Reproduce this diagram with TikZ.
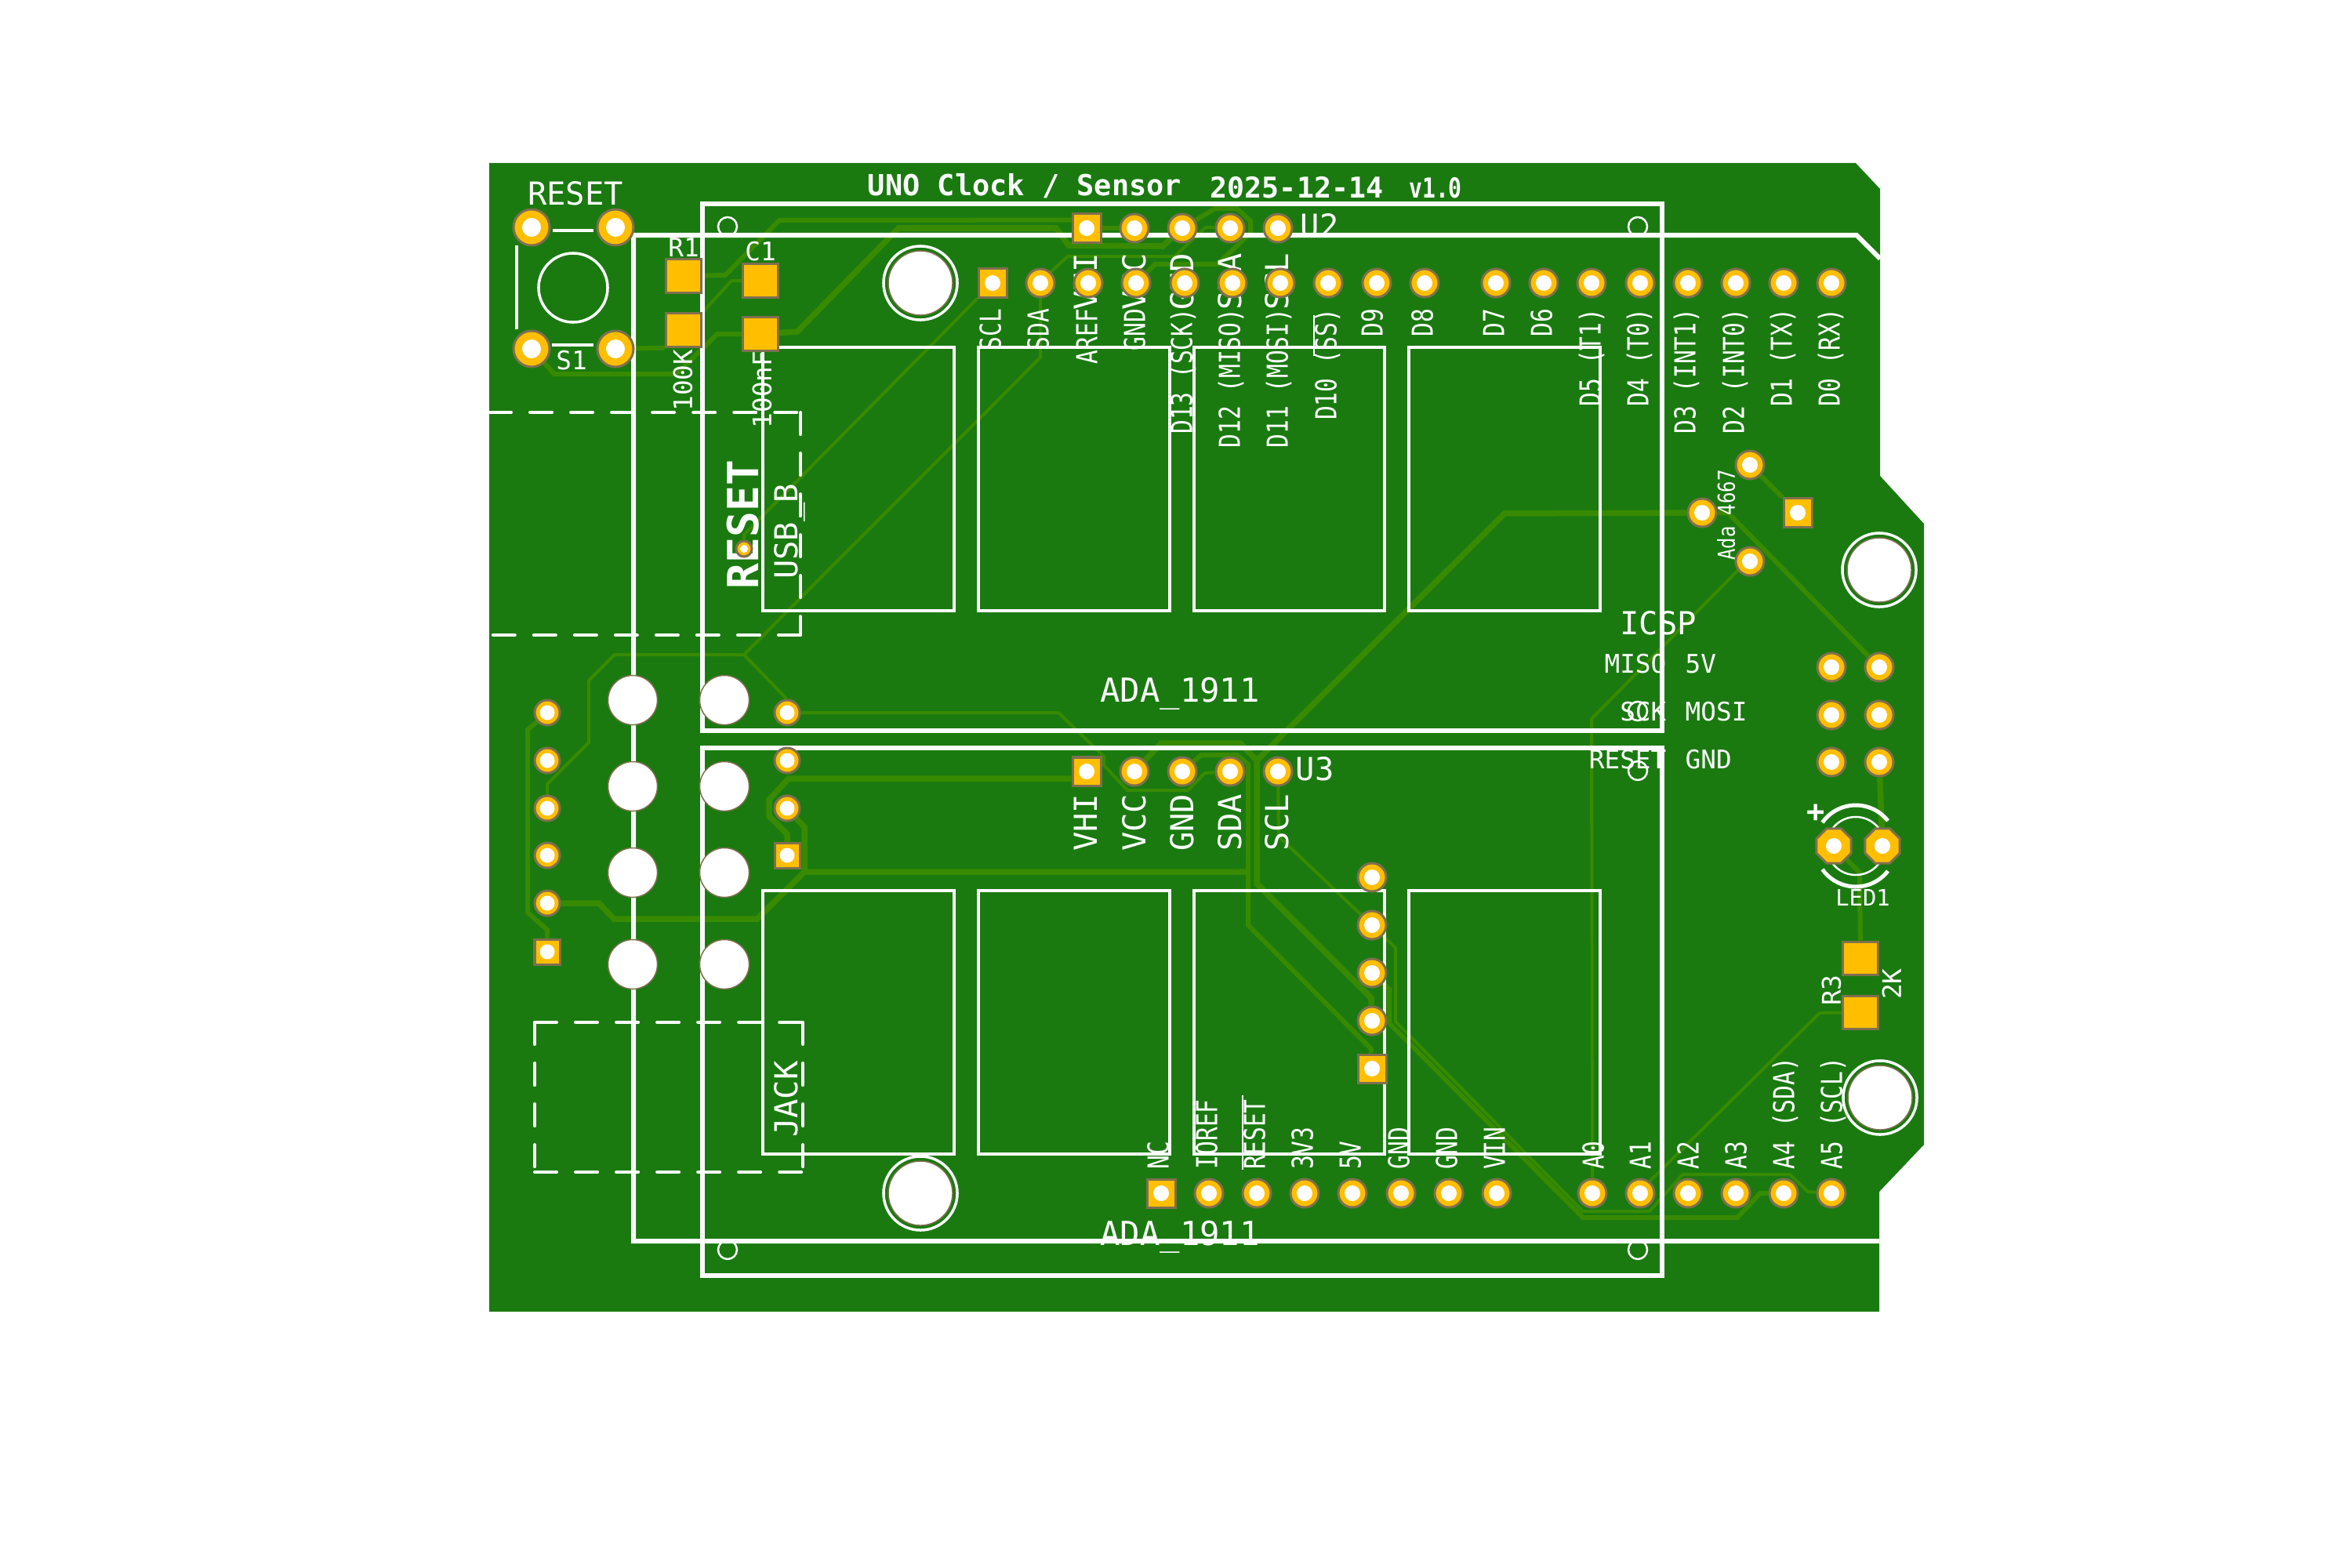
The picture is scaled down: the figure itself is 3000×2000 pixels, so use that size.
\documentclass[tikz,border=0pt]{standalone}
\usepackage{fontspec}
\usetikzlibrary{shapes.geometric}
\newfontfamily\silkwide{DejaVu Sans Mono}
\newfontfamily\silknarrow[FakeStretch=0.8]{DejaVu Sans Mono}
\definecolor{boardgreen}{RGB}{26,122,16}
\definecolor{coppergreen}{RGB}{56,138,0}
\definecolor{padorange}{RGB}{255,191,0}
\definecolor{padedge}{RGB}{127,111,79}
\pgfdeclarelayer{board}
\pgfdeclarelayer{copper}
\pgfdeclarelayer{silk}
\pgfsetlayers{board,copper,silk,main}
\tikzset{
  padbase/.style={fill=padorange,draw=padedge,line width=0.03cm,inner sep=0pt,
    path picture={\fill[white] (path picture bounding box.center) circle (#1);}},
  pad/.style={padbase=0.1cm,circle,minimum size=0.36cm},
  padsq/.style={padbase=0.1cm,rectangle,minimum size=0.36cm},
  padsmall/.style={padbase=0.095cm,circle,minimum size=0.32cm},
  padsmallsq/.style={padbase=0.095cm,rectangle,minimum size=0.32cm},
  padsw/.style={padbase=0.12cm,circle,minimum size=0.46cm},
  padoct/.style={padbase=0.1cm,regular polygon,regular polygon sides=8,minimum size=0.48cm},
  padvia/.style={padbase=0.05cm,circle,minimum size=0.2cm},
  smd/.style={fill=padorange,draw=padedge,line width=0.03cm,inner sep=0pt,rectangle,
    minimum width=0.45cm,minimum height=0.42cm},
  drill/.style={circle,fill=white,draw=padedge,line width=0.015cm,inner sep=0pt,minimum size=0.63cm},
  mount/.style={circle,fill=white,draw=padedge,line width=0.015cm,inner sep=0pt,minimum size=0.82cm},
  trthin/.style={coppergreen,line width=0.04cm},
  trmid/.style={coppergreen,line width=0.06cm},
  trwide/.style={coppergreen,line width=0.075cm},
  silkline/.style={white,line width=0.06cm},
  silkpanel/.style={white,line width=0.035cm},
  silkthin/.style={white,line width=0.025cm},
  silkled/.style={white,line width=0.05cm},
  silkdash/.style={white,line width=0.04cm,line cap=round,dash pattern=on 0.28cm off 0.24cm},
  silktext/.style={text=white,inner sep=0pt,text depth=0pt},
  pinlabel/.style={silktext,font=\silknarrow\fontsize{10.5}{12}\selectfont,text height=7.7pt,rotate=90},
  pinup/.style={pinlabel,anchor=west},
  pindown/.style={pinlabel,anchor=east},
  modlabel/.style={silktext,font=\silkwide\fontsize{11.5}{13}\selectfont,text height=8.4pt,rotate=90,anchor=east},
  bigtext/.style={silktext,font=\silkwide\fontsize{11.5}{13}\selectfont,text height=8.4pt},
  smalltext/.style={silktext,font=\silkwide\fontsize{9.3}{11}\selectfont,text height=6.8pt},
}
\begin{document}
\begin{tikzpicture}[x=0.01cm,y=-0.01cm]
  \useasboundingbox (0,0) rectangle (3000,2000);
  \draw
    (1266,361) node[padsq] (pscl){}
    (1327,361) node[pad] (psda){}
    (1388,361) node[pad] (paref){}
    (1449,361) node[pad] (pgnd){}
    (1511,361) node[pad] (pd13){}
    (1572,361) node[pad] (pd12){}
    (1633,361) node[pad] (pd11){}
    (1694,361) node[pad] (pd10){}
    (1756,361) node[pad] (pd9){}
    (1817,361) node[pad] (pd8){}
    (1908,361) node[pad] (pd7){}
    (1969,361) node[pad] (pd6){}
    (2030,361) node[pad] (pd5){}
    (2092,361) node[pad] (pd4){}
    (2153,361) node[pad] (pd3){}
    (2214,361) node[pad] (pd2){}
    (2275,361) node[pad] (pd1){}
    (2336,361) node[pad] (pd0){};
  \draw
    (1481,1522) node[padsq] (pnc){}
    (1542,1522) node[pad] (pioref){}
    (1603,1522) node[pad] (preset){}
    (1664,1522) node[pad] (p3v3){}
    (1725,1522) node[pad] (p5v){}
    (1787,1522) node[pad] (pgnda){}
    (1848,1522) node[pad] (pgndb){}
    (1909,1522) node[pad] (pvin){}
    (2031,1522) node[pad] (pa0){}
    (2092,1522) node[pad] (pa1){}
    (2153,1522) node[pad] (pa2){}
    (2214,1522) node[pad] (pa3){}
    (2275,1522) node[pad] (pa4){}
    (2336,1522) node[pad] (pa5){};
  \draw
    (1386,291) node[padsq] (u2vhi){}
    (1447,291) node[pad] (u2vcc){}
    (1508,291) node[pad] (u2gnd){}
    (1569,291) node[pad] (u2sda){}
    (1630,291) node[pad] (u2scl){}
    (1386,984) node[padsq] (u3vhi){}
    (1447,984) node[pad] (u3vcc){}
    (1508,984) node[pad] (u3gnd){}
    (1569,984) node[pad] (u3sda){}
    (1630,984) node[pad] (u3scl){};
  \draw
    (1750,1119) node[pad] (hd1){}
    (1750,1180) node[pad] (hd2){}
    (1750,1241) node[pad] (hd3){}
    (1750,1302) node[pad] (hd4){}
    (1750,1363) node[padsq] (hd5){};
  \draw
    (698,909) node[padsmall] (ja1){}
    (698,970) node[padsmall] (ja2){}
    (698,1031) node[padsmall] (ja3){}
    (698,1091) node[padsmall] (ja4){}
    (698,1152) node[padsmall] (ja5){}
    (698,1214) node[padsmallsq] (ja6){}
    (1004,909) node[padsmall] (jb1){}
    (1004,970) node[padsmall] (jb2){}
    (1004,1031) node[padsmall] (jb3){}
    (1004,1091) node[padsmallsq] (jb4){};
  \draw
    (807,893) node[drill] (hl1){}
    (924,893) node[drill] (hl2){}
    (807,1003) node[drill] (hl3){}
    (924,1003) node[drill] (hl4){}
    (807,1113) node[drill] (hl5){}
    (924,1113) node[drill] (hl6){}
    (807,1230) node[drill] (hl7){}
    (924,1230) node[drill] (hl8){};
  \draw
    (1174,361) node[mount] (mt1){}
    (1174,1522) node[mount] (mt2){}
    (2397,727) node[mount] (mt3){}
    (2398,1400) node[mount] (mt4){};
  \draw
    (678,290) node[padsw] (s1a){}
    (785,290) node[padsw] (s1b){}
    (678,445) node[padsw] (s1c){}
    (785,445) node[padsw] (s1d){}
    (872,352) node[smd] (r1a){}
    (872,421) node[smd] (r1b){}
    (970,358) node[smd] (c1a){}
    (970,426) node[smd] (c1b){}
    (2373,1222) node[smd] (r3a){}
    (2373,1291) node[smd] (r3b){}
    (949,700) node[padvia] (vreset){};
  \draw
    (2232,593) node[pad] (ad1){}
    (2171,654) node[pad] (ad2){}
    (2232,716) node[pad] (ad3){}
    (2293,654) node[padsq] (ad4){}
    (2336,851) node[pad] (ic1){}
    (2397,851) node[pad] (ic2){}
    (2336,912) node[pad] (ic3){}
    (2397,912) node[pad] (ic4){}
    (2336,972) node[pad] (ic5){}
    (2397,972) node[pad] (ic6){}
    (2339,1079) node[padoct] (lda){}
    (2401,1079) node[padoct] (ldb){};
  \begin{pgfonlayer}{board}
    \fill[boardgreen] (624,208) -- (2367,208) -- (2398,241) -- (2398,607) -- (2454,668)
      -- (2454,1460) -- (2397,1520) -- (2397,1673) -- (624,1673) -- cycle;
  \end{pgfonlayer}
  \begin{pgfonlayer}{copper}
    \coordinate (tsda) at (949,835);
    \coordinate (tgnd) at (1026,1112);
    \coordinate (tvcc) at (1603,970);
    \draw[trmid] (r1a) -- (925,351) -- (994,281) -- (u2vhi.152);
    \draw[trthin] (r1b.north east) -- (933,358) -- (c1a);
    \draw[trmid] (c1b) -- (915,426) -- (863,477) -- (707,477) -- (s1c);
    \draw[trmid] (s1d) -- (r1b.south west);
    \draw[trwide] (c1b) -- (1017,423) -- (1146,291) -- (1347,291) -- (1363,313) -- (1483,314) -- (1495,303) -- (u2gnd);
    \draw[trmid] (u2gnd) -- (1550,266) -- (1578,266) -- (1595,282) -- (1595,297) -- (1553,337) -- (1473,337) -- (1463,347) -- (pgnd);
    \draw[trthin] (u2sda) -- (1538,290) -- (1498,327) -- (1362,327) -- (1340,347) -- (psda);
    \draw[trmid] (u2vhi) -- (u2vcc);
    \draw[trthin] (pscl) -- (949,682) -- (vreset);
    \draw[trthin] (psda) -- (1327,456) -- (tsda) -- (784,835) -- (751,868) -- (751,947) -- (698,1000) -- (ja3);
    \draw[trthin] (tsda) -- (1002,890) -- (jb1);
    \draw[trmid] (ja1) -- (673,931) -- (673,1164) -- (698,1186) -- (ja6);
    \draw[trwide] (ja5) -- (764,1152) -- (783,1172) -- (966,1172) -- (tgnd) -- (1592,1112);
    \draw[trwide] (tgnd) -- (1026,1055) -- (jb3);
    \draw[trwide] (jb4) -- (1004,1064) -- (981,1041) -- (981,1020) -- (1006,993) -- (u3vhi.205);
    \draw[trthin] (jb1) -- (1350,909) -- (1408,965) -- (1408,976) -- (1438,1008) -- (1515,1008) -- (1537,986) -- (u3sda);
    \draw[trwide] (u3vcc) -- (1481,948) -- (1582,948) -- (tvcc) -- (1603,1127) -- (1749,1273) -- (hd4);
    \draw[trwide] (tvcc) -- (1919,655) -- (ad2);
    \draw[trmid] (u3gnd) -- (1532,963) -- (1578,963) -- (1592,975) -- (1592,1180) -- (1749,1338) -- (hd5);
    \draw[trthin] (u3scl) -- (1631,1067) -- (hd2);
    \draw[trthin] (hd2) -- (1780,1209) -- (1780,1303) -- (2019,1545) -- (2104,1545) -- (2146,1498) -- (2283,1498) -- (2306,1520) -- (pa5);
    \draw[trmid] (hd3) -- (1772,1262) -- (1772,1305) -- (2019,1553) -- (2216,1553) -- (2245,1522) -- (pa4);
    \draw[trthin] (pa0) -- (2030,917) -- (2218,726) -- (ad3);
    \draw[trthin] (pa1) -- (2106,1505) -- (2321,1292) -- (r3b);
    \draw[trmid] (ad1) -- (ad4);
    \draw[trmid] (ad2) -- (2204,654) -- (ic2);
    \draw[trwide] (ic6) -- (ldb);
    \draw[trmid] (lda) -- (2372,1113) -- (r3a);
  \end{pgfonlayer}
  \begin{pgfonlayer}{silk}
    \draw[silkline] (2398,330) -- (2368,300) -- (808,300) -- (808,1583) -- (2397,1583);
    \draw[silkline] (896,260) rectangle (2120,932);
    \draw[silkline] (896,954) rectangle (2120,1627);
    \draw[silkpanel] (973,443) rectangle (1217,779);
    \draw[silkpanel] (1248,443) rectangle (1492,779);
    \draw[silkpanel] (1523,443) rectangle (1766,779);
    \draw[silkpanel] (1797,443) rectangle (2041,779);
    \draw[silkpanel] (973,1136) rectangle (1217,1472);
    \draw[silkpanel] (1248,1136) rectangle (1492,1472);
    \draw[silkpanel] (1523,1136) rectangle (1766,1472);
    \draw[silkpanel] (1797,1136) rectangle (2041,1472);
    \draw[silkthin] (928,289) circle (0.12cm);
    \draw[silkthin] (2089,289) circle (0.12cm);
    \draw[silkthin] (2089,907) circle (0.12cm);
    \draw[silkthin] (2089,983) circle (0.12cm);
    \draw[silkthin] (928,1594) circle (0.12cm);
    \draw[silkthin] (2089,1594) circle (0.12cm);
    \draw[silkpanel] (1174,361) circle (0.47cm);
    \draw[silkpanel] (1174,1522) circle (0.47cm);
    \draw[silkpanel] (2397,727) circle (0.47cm);
    \draw[silkpanel] (2398,1400) circle (0.47cm);
    \draw[silkdash] (624,526) -- (1021,526);
    \draw[silkdash] (1021,526) -- (1021,810);
    \draw[silkdash] (1021,810) -- (624,810);
    \draw[silkdash] (682,1304) -- (1024,1304);
    \draw[silkdash] (682,1304) -- (682,1495);
    \draw[silkdash] (1024,1304) -- (1024,1495);
    \draw[silkdash] (682,1495) -- (1024,1495);
    \draw[silkpanel] (705,294) -- (757,294);
    \draw[silkpanel] (704,440) -- (757,440);
    \draw[silkpanel] (659,313) -- (659,420);
    \draw[silkpanel] (731,367) circle (0.44cm);
    \draw[silkled] (2367,1079) ++(38:52) arc[start angle=38,end angle=145,radius=52];
    \draw[silkled] (2367,1079) ++(-38:52) arc[start angle=-38,end angle=-145,radius=52];
    \draw[silkthin] (2367,1079) circle (0.37cm);
    \draw[silkthin] (1585,1397) -- (1585,1492);
    \draw[silkthin] (1676,402) -- (1676,454);
    \draw
      (1307,236) node[silktext,font=\silkwide\bfseries\fontsize{10.5}{13}\selectfont,text height=7.7pt] (title){UNO Clock / Sensor}
      (1654,240) node[silktext,font=\silkwide\bfseries\fontsize{10.4}{12}\selectfont,text height=7.3pt] (date){2025-12-14}
      (1831,240) node[silktext,font=\silknarrow\bfseries\fontsize{10}{12}\selectfont,text height=7.3pt] (version){v1.0}
      (734,247) node[bigtext] (lblreset){RESET}
      (729,460) node[smalltext] (lbls1){S1}
      (872,316) node[smalltext] (lblr1){R1}
      (970,321) node[smalltext] (lblc1){C1}
      (871,485) node[smalltext,rotate=90] (lbl100k){100K}
      (972,497) node[smalltext,rotate=90] (lbl100nf){100nF}
      (948,669) node[silktext,font=\silkwide\bfseries\fontsize{15.5}{18}\selectfont,text height=11.3pt,rotate=90] (lblbold){RESET}
      (1003,678) node[bigtext,rotate=90] (lblusb){USB\_B}
      (1003,1402) node[bigtext,rotate=90] (lbljack){JACK}
      (1683,288) node[bigtext] (lblu2){U2}
      (1677,981) node[bigtext] (lblu3){U3}
      (1505,881) node[bigtext,font=\silkwide\fontsize{12}{14}\selectfont] (lblada1){ADA\_1911}
      (1505,1574) node[bigtext,font=\silkwide\fontsize{12}{14}\selectfont] (lblada2){ADA\_1911}
      (2202,657) node[silktext,font=\silknarrow\fontsize{8.5}{10}\selectfont,text height=6.2pt,rotate=90] (lblada){Ada 4667}
      (2115,795) node[bigtext] (lblicsp){ICSP}
      (2126,847) node[smalltext,anchor=east] (lblmiso){MISO}
      (2149,847) node[smalltext,anchor=west] (lbl5v){5V}
      (2126,908) node[smalltext,anchor=east] (lblsck){SCK}
      (2149,908) node[smalltext,anchor=west] (lblmosi){MOSI}
      (2126,969) node[smalltext,anchor=east] (lblrst){RESET}
      (2149,969) node[smalltext,anchor=west] (lblgnd){GND}
      (2316,1037) node[silktext,font=\silkwide\bfseries\fontsize{11}{13}\selectfont] (lblplus){+}
      (2376,1145) node[silktext,font=\silkwide\fontsize{8.2}{10}\selectfont,text height=6pt] (lblled){LED1}
      (2336,1263) node[smalltext,rotate=90] (lblr3){R3}
      (2413,1255) node[smalltext,rotate=90] (lbl2k){2K};
    \draw
      (1263,393) node[pindown] (tscl){SCL}
      (1324,393) node[pindown] (tsdap){SDA}
      (1386,393) node[pindown] (taref){AREF}
      (1447,393) node[pindown] (tgndp){GND}
      (1507,393) node[pindown] (td13){D13 (SCK)}
      (1568,393) node[pindown] (td12){D12 (MISO)}
      (1629,393) node[pindown] (td11){D11 (MOSI)}
      (1691,393) node[pindown] (td10){D10 (SS)}
      (1750,393) node[pindown] (td9){D9}
      (1814,393) node[pindown] (td8){D8}
      (1905,393) node[pindown] (td7){D7}
      (1966,393) node[pindown] (td6){D6}
      (2028,393) node[pindown] (td5){D5 (T1)}
      (2089,393) node[pindown] (td4){D4 (T0)}
      (2149,393) node[pindown] (td3){D3 (INT1)}
      (2211,393) node[pindown] (td2){D2 (INT0)}
      (2272,393) node[pindown] (td1){D1 (TX)}
      (2333,393) node[pindown] (td0){D0 (RX)};
    \draw
      (1477,1492) node[pinup] (tnc){NC}
      (1539,1492) node[pinup] (tioref){IOREF}
      (1600,1492) node[pinup] (treset){RESET}
      (1661,1492) node[pinup] (t3v3){3V3}
      (1722,1492) node[pinup] (t5v){5V}
      (1784,1492) node[pinup] (tgnda){GND}
      (1845,1492) node[pinup] (tgndb){GND}
      (1906,1492) node[pinup] (tvin){VIN}
      (2032,1492) node[pinup] (ta0){A0}
      (2092,1492) node[pinup] (ta1){A1}
      (2153,1492) node[pinup] (ta2){A2}
      (2214,1492) node[pinup] (ta3){A3}
      (2275,1492) node[pinup] (ta4){A4 (SDA)}
      (2336,1492) node[pinup] (ta5){A5 (SCL)};
    \draw
      (1385,322) node[modlabel] (tu2vhi){VHI}
      (1447,322) node[modlabel] (tu2vcc){VCC}
      (1508,322) node[modlabel] (tu2gnd){GND}
      (1569,322) node[modlabel] (tu2sda){SDA}
      (1629,322) node[modlabel] (tu2scl){SCL}
      (1385,1012) node[modlabel] (tu3vhi){VHI}
      (1447,1012) node[modlabel] (tu3vcc){VCC}
      (1508,1012) node[modlabel] (tu3gnd){GND}
      (1569,1012) node[modlabel] (tu3sda){SDA}
      (1629,1012) node[modlabel] (tu3scl){SCL};
  \end{pgfonlayer}
\end{tikzpicture}
\end{document}
